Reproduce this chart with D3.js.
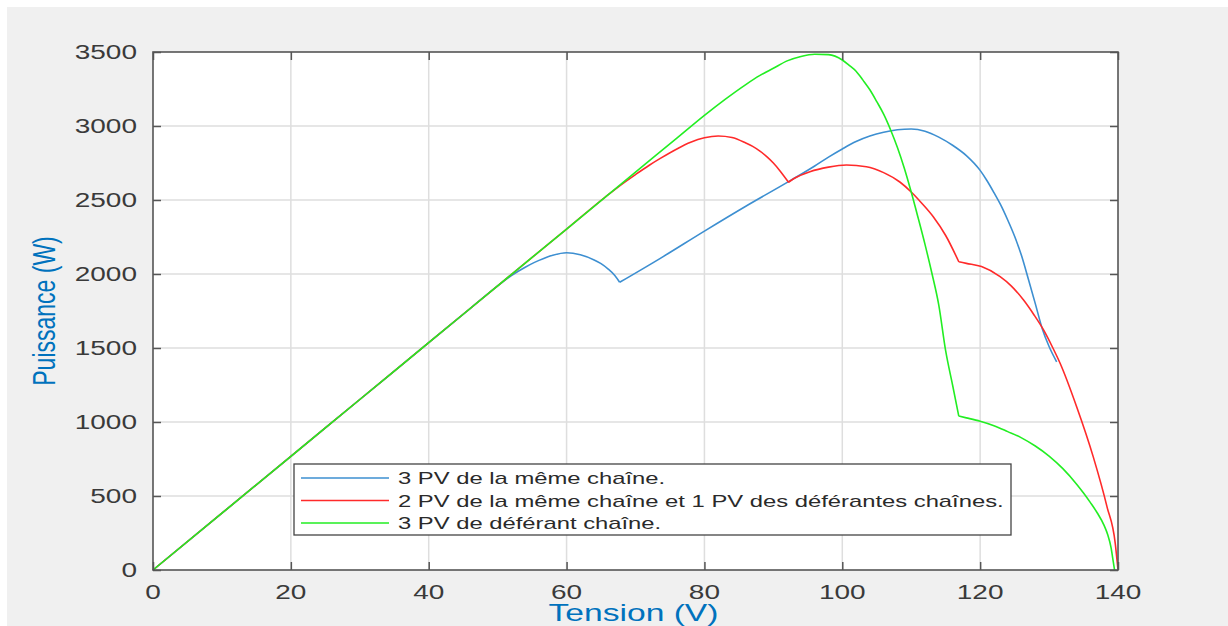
<!DOCTYPE html>
<html>
<head>
<meta charset="utf-8">
<script src="https://cdn.jsdelivr.net/npm/d3@7"></script>
<style>
html,body{margin:0;padding:0;background:#ffffff;}
svg{display:block;}
text{font-family:"Liberation Sans",Arial,Helvetica,sans-serif;}
</style>
</head>
<body>
<svg id="chart" width="1228" height="626"></svg>
<script>
// ---- data ----
const xTicks = [0, 20, 40, 60, 80, 100, 120, 140];
const yTicks = [0, 500, 1000, 1500, 2000, 2500, 3000, 3500];
const seriesNames = [
  "3 PV de la même chaîne.",
  "2 PV de la même chaîne et 1 PV des déférantes chaînes.",
  "3 PV de déférant chaîne."
];
const xLabel = "Tension (V)";
const yLabel = "Puissance (W)";

const blueV = [0, 10, 20, 30, 40, 46, 50, 52, 54, 55.2, 56, 58, 60, 62, 64, 65, 66, 67, 67.7, 73.6, 80, 86, 92.2, 96, 98, 100, 102, 104, 106, 108, 110, 112, 114, 116, 118, 120, 121, 122, 123, 124, 125, 126, 127, 128, 129, 130, 131.1];
const blueP = [0, 384, 768, 1152, 1536, 1766, 1920, 1990, 2046, 2075, 2092, 2127, 2144, 2130, 2095, 2070, 2035, 1990, 1944, 2106, 2290, 2458, 2624, 2730, 2790, 2845, 2895, 2932, 2958, 2975, 2980, 2965, 2925, 2870, 2800, 2700, 2630, 2550, 2465, 2365, 2255, 2125, 1965, 1800, 1632, 1510, 1407];
const blueKinks = [67.7];

const redV = [0, 10, 20, 30, 40, 50, 60, 64, 66, 68, 70, 72, 73.6, 76, 78, 80, 82, 84, 86, 87, 88, 89, 90, 91, 92.2, 93, 95.3, 98, 100.6, 103.5, 106, 108.4, 110, 111.5, 113.2, 115, 116.9, 118, 120.2, 122.9, 124.5, 126.3, 127.8, 129.2, 130.5, 131.6, 134, 136.4, 138.4, 139.6, 139.9, 140];
const redP = [0, 384, 768, 1152, 1536, 1920, 2304, 2458, 2534, 2606, 2672, 2735, 2781, 2845, 2890, 2920, 2932, 2922, 2885, 2862, 2832, 2795, 2750, 2695, 2620, 2645, 2691, 2722, 2736, 2725, 2685, 2620, 2554, 2480, 2387, 2260, 2083, 2072, 2050, 1982, 1920, 1824, 1725, 1622, 1505, 1397, 1103, 766, 428, 180, 47, 0];
const redKinks = [92.2, 116.9];

const greenV = [0, 10, 20, 30, 40, 50, 60, 70, 76, 80, 83, 86, 88, 90, 92, 94, 96, 98, 100, 101, 102, 103, 104, 105, 106, 107, 108, 109, 110, 111, 112, 113, 114, 115, 116, 116.9, 118, 120, 122, 124, 126, 128, 130, 132, 134, 135, 136, 137, 138, 138.5, 139, 139.3, 139.5];
const greenP = [0, 384, 768, 1152, 1536, 1920, 2304, 2688, 2918, 3072, 3180, 3280, 3340, 3390, 3440, 3470, 3485, 3482, 3446, 3410, 3370, 3310, 3245, 3165, 3080, 2975, 2855, 2715, 2554, 2380, 2200, 2005, 1790, 1480, 1250, 1040, 1028, 1005, 975, 935, 893, 838, 770, 685, 580, 520, 455, 385, 300, 240, 150, 60, 0];
const greenKinks = [116.9];

const colors = ["#3d8fd1", "#ff2a2a", "#22ee22"];

// ---- layout ----
const svg = d3.select("#chart");
const W = 1228, H = 626;
const plot = {left: 153, right: 1118, top: 52, bottom: 570};
const SX = 1.4; // horizontal stretch of the reference text

svg.append("rect").attr("x", 7).attr("y", 7).attr("width", W - 7).attr("height", H - 7).attr("fill", "#f0f0f0");

const x = d3.scaleLinear().domain([0, 140]).range([plot.left, plot.right]);
const y = d3.scaleLinear().domain([0, 3500]).range([plot.bottom, plot.top]);

// plot background
svg.append("rect").attr("x", plot.left).attr("y", plot.top)
  .attr("width", plot.right - plot.left).attr("height", plot.bottom - plot.top)
  .attr("fill", "#ffffff");

// grid
const grid = svg.append("g");
grid.selectAll(".vg").data(xTicks.slice(1, -1)).enter().append("line")
  .attr("x1", d => x(d)).attr("x2", d => x(d)).attr("y1", plot.top).attr("y2", plot.bottom)
  .attr("stroke", "#dedede").attr("stroke-width", 1.5);
grid.selectAll(".hg").data(yTicks.slice(1, -1)).enter().append("line")
  .attr("y1", d => y(d)).attr("y2", d => y(d)).attr("x1", plot.left).attr("x2", plot.right)
  .attr("stroke", "#dedede").attr("stroke-width", 1.5);

// curves: smooth within segments, sharp at the kinks
const line = d3.line().curve(d3.curveMonotoneX).x(d => x(d[0])).y(d => y(d[1]));
function segmentPath(V, P, kinks) {
  const pts = d3.zip(V, P);
  const segs = [];
  let cur = [];
  pts.forEach(p => {
    cur.push(p);
    if (kinks.includes(p[0])) { segs.push(cur); cur = [p]; }
  });
  if (cur.length > 1) segs.push(cur);
  return segs.map(s => line(s)).join("");
}
const series = [
  [blueV, blueP, blueKinks],
  [redV, redP, redKinks],
  [greenV, greenP, greenKinks]
];
series.forEach((s, i) => {
  svg.append("path").attr("d", segmentPath(s[0], s[1], s[2]))
    .attr("fill", "none").attr("stroke", colors[i]).attr("stroke-width", 1.6)
    .attr("stroke-linejoin", "round");
});

// axes (d3 axes with inward ticks, box on all sides)
const tickLen = 8;
const axisColor = "#555555";
function styleAxis(g) {
  g.select(".domain").remove();
  g.selectAll(".tick line").attr("stroke", axisColor).attr("stroke-width", 1.5);
}
const xAxisB = svg.append("g").attr("transform", `translate(0,${plot.bottom})`)
  .call(d3.axisBottom(x).tickValues(xTicks).tickSizeInner(-tickLen).tickSizeOuter(0).tickFormat(""));
styleAxis(xAxisB);
const xAxisT = svg.append("g").attr("transform", `translate(0,${plot.top})`)
  .call(d3.axisTop(x).tickValues(xTicks).tickSizeInner(-tickLen).tickSizeOuter(0).tickFormat(""));
styleAxis(xAxisT);
const yAxisL = svg.append("g").attr("transform", `translate(${plot.left},0)`)
  .call(d3.axisLeft(y).tickValues(yTicks).tickSizeInner(-tickLen).tickSizeOuter(0).tickFormat(""));
styleAxis(yAxisL);
const yAxisR = svg.append("g").attr("transform", `translate(${plot.right},0)`)
  .call(d3.axisRight(y).tickValues(yTicks).tickSizeInner(-tickLen).tickSizeOuter(0).tickFormat(""));
styleAxis(yAxisR);

svg.append("rect").attr("x", plot.left).attr("y", plot.top)
  .attr("width", plot.right - plot.left).attr("height", plot.bottom - plot.top)
  .attr("fill", "none").attr("stroke", axisColor).attr("stroke-width", 1.6);

// tick labels (stretched horizontally like reference)
const tickFont = 20;
svg.append("g").selectAll("text").data(xTicks).enter().append("text")
  .attr("transform", d => `translate(${x(d)},599) scale(${SX},1)`)
  .attr("text-anchor", "middle").attr("font-size", tickFont).attr("fill", "#3a3a3a")
  .text(d => d);
svg.append("g").selectAll("text").data(yTicks).enter().append("text")
  .attr("transform", d => `translate(137,${y(d) + 7}) scale(${SX},1)`)
  .attr("text-anchor", "end").attr("font-size", tickFont).attr("fill", "#3a3a3a")
  .text(d => d);

// axis labels
svg.append("text")
  .attr("transform", `translate(${(plot.left + plot.right) / 2 - 2},621) scale(${SX},1)`)
  .attr("text-anchor", "middle").attr("font-size", 24).attr("fill", "#0072BD")
  .text(xLabel);
svg.append("text")
  .attr("transform", `translate(55,${(plot.top + plot.bottom) / 2}) scale(${SX},1) rotate(-90)`)
  .attr("text-anchor", "middle").attr("font-size", 23).attr("fill", "#0072BD")
  .text(yLabel);

// legend
const lg = svg.append("g");
lg.append("rect").attr("x", 294).attr("y", 464).attr("width", 717).attr("height", 71)
  .attr("fill", "#ffffff").attr("stroke", "#444444").attr("stroke-width", 1.3);
const legendYs = [478, 500.5, 523];
seriesNames.forEach((name, i) => {
  lg.append("line").attr("x1", 301).attr("x2", 389).attr("y1", legendYs[i]).attr("y2", legendYs[i])
    .attr("stroke", colors[i]).attr("stroke-width", 1.5);
  lg.append("text").attr("transform", `translate(398,${legendYs[i] + 6}) scale(${SX},1)`)
    .attr("font-size", 17).attr("fill", "#2a2a2a").text(name);
});
</script>
</body>
</html>
